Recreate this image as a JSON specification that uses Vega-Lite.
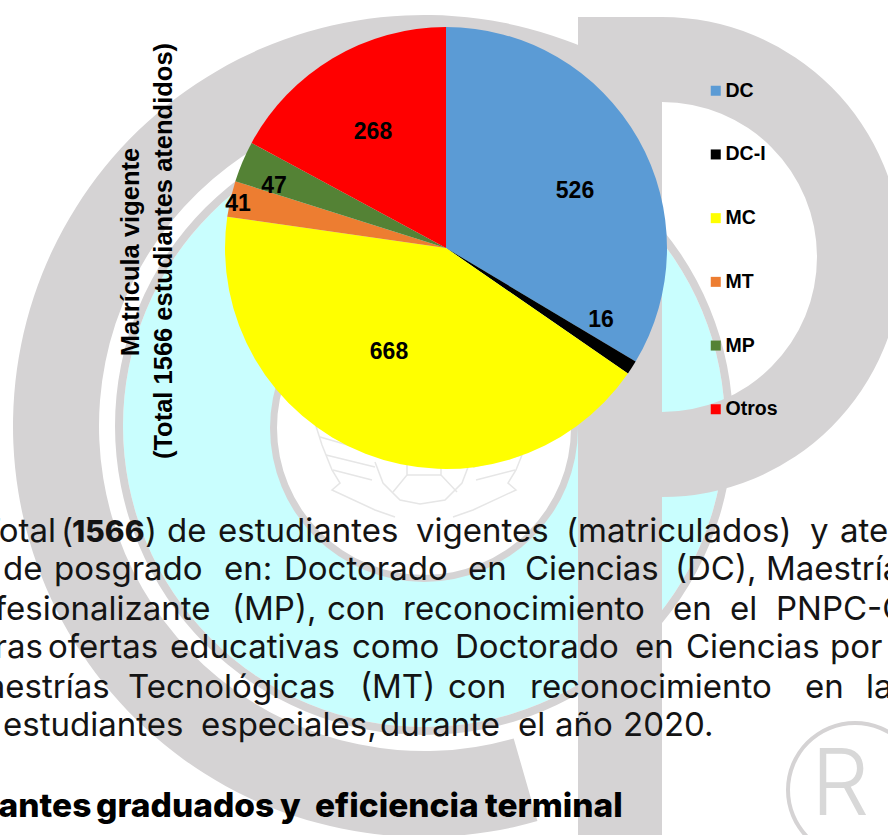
{
"$schema":"https://vega.github.io/schema/vega-lite/v6.json",
"width":888,"height":835,"padding":0,
"autosize":{"type":"none"},
"background":"white",
"config":{"view":{"stroke":null}},
"datasets":{
"cyan":[{"cx":424,"cy":426,"r":301,"r2":150,"t0":0,"t1":6.2832}],
"rings":[
{"name":"thin","cx":424,"cy":426,"r":309,"r2":301,"t0":0,"t1":6.2832},
{"name":"inner","cx":424,"cy":428,"r":154,"r2":147,"t0":0,"t1":6.2832},
{"name":"C","cx":424,"cy":426,"r":411,"r2":325,"t0":2.862,"t1":6.72},
{"name":"P","cx":662,"cy":257,"r":240,"r2":155,"t0":0,"t1":3.1416},
{"name":"reg","cx":855,"cy":790,"r":69,"r2":65,"t0":0,"t1":6.2832}
],
"stem":[{"x":578,"x2":662,"y":17,"y2":835}],
"emblem":[
{"g":"a","i":1,"x":315,"y":423},{"g":"a","i":2,"x":322,"y":445},{"g":"a","i":3,"x":332,"y":470},{"g":"a","i":4,"x":340,"y":483},{"g":"a","i":5,"x":332,"y":490},{"g":"a","i":6,"x":375,"y":510},{"g":"a","i":7,"x":395,"y":517},
{"g":"b","i":1,"x":320,"y":437},{"g":"b","i":2,"x":372,"y":452},
{"g":"c","i":1,"x":326,"y":455},{"g":"c","i":2,"x":375,"y":467},
{"g":"d","i":1,"x":333,"y":470},{"g":"d","i":2,"x":372,"y":480},
{"g":"e","i":1,"x":533,"y":423},{"g":"e","i":2,"x":526,"y":445},{"g":"e","i":3,"x":516,"y":470},{"g":"e","i":4,"x":508,"y":483},{"g":"e","i":5,"x":516,"y":490},{"g":"e","i":6,"x":473,"y":510},{"g":"e","i":7,"x":453,"y":517},
{"g":"f","i":1,"x":528,"y":437},{"g":"f","i":2,"x":476,"y":452},
{"g":"g","i":1,"x":522,"y":455},{"g":"g","i":2,"x":473,"y":467},
{"g":"h","i":1,"x":515,"y":470},{"g":"h","i":2,"x":476,"y":480},
{"g":"k","i":1,"x":375,"y":462},{"g":"k","i":2,"x":383,"y":483},{"g":"k","i":3,"x":400,"y":500},{"g":"k","i":4,"x":420,"y":504},{"g":"k","i":5,"x":445,"y":500},{"g":"k","i":6,"x":462,"y":483},{"g":"k","i":7,"x":470,"y":462},
{"g":"m","i":1,"x":407,"y":457},{"g":"m","i":2,"x":407,"y":475},{"g":"m","i":3,"x":393,"y":492},
{"g":"n","i":1,"x":441,"y":457},{"g":"n","i":2,"x":441,"y":475},{"g":"n","i":3,"x":457,"y":492},
{"g":"o","i":1,"x":407,"y":475},{"g":"o","i":2,"x":441,"y":475}
],
"pie":[
{"programa":"DC","n":526,"i":1},
{"programa":"DC-I","n":16,"i":2},
{"programa":"MC","n":668,"i":3},
{"programa":"MT","n":41,"i":4},
{"programa":"MP","n":47,"i":5},
{"programa":"Otros","n":268,"i":6}
],
"pieLabels":[
{"t":"526","x":575,"y":198},{"t":"16","x":601,"y":327},{"t":"668","x":389,"y":359},
{"t":"41","x":238,"y":211},{"t":"47","x":274,"y":193},{"t":"268","x":373,"y":139}
],
"axisTitle":[
{"t":"Matrícula vigente","x":139,"y":252},
{"t":"(Total 1566 estudiantes atendidos)","x":172,"y":251}
],
"body":[
{"w":"Total","x":-20,"y":542},{"w":"(","x":61,"y":542},{"w":")","x":145,"y":542},{"w":"de","x":167,"y":542},{"w":"estudiantes","x":218,"y":542},{"w":"vigentes","x":416,"y":542},{"w":"(matriculados)","x":566,"y":542},{"w":"y","x":810,"y":542},{"w":"atendidos","x":840,"y":542},
{"w":"de","x":3,"y":580},{"w":"posgrado","x":54,"y":580},{"w":"en:","x":224,"y":580},{"w":"Doctorado","x":284,"y":580},{"w":"en","x":468,"y":580},{"w":"Ciencias","x":525,"y":580},{"w":"(DC),","x":675,"y":580},{"w":"Maestría","x":766,"y":580},
{"w":"Profesionalizante","x":-58,"y":620},{"w":"(MP),","x":232,"y":620},{"w":"con","x":327,"y":620},{"w":"reconocimiento","x":403,"y":620},{"w":"en","x":673,"y":620},{"w":"el","x":730,"y":620},{"w":"PNPC-CONACYT","x":776,"y":620},
{"w":"otras","x":-36,"y":658},{"w":"ofertas","x":48,"y":658},{"w":"educativas","x":170,"y":658},{"w":"como","x":352,"y":658},{"w":"Doctorado","x":455,"y":658},{"w":"en","x":635,"y":658},{"w":"Ciencias","x":686,"y":658},{"w":"por","x":830,"y":658},
{"w":"Maestrías","x":-43,"y":698},{"w":"Tecnológicas","x":128,"y":698},{"w":"(MT)","x":360,"y":698},{"w":"con","x":448,"y":698},{"w":"reconocimiento","x":530,"y":698},{"w":"en","x":805,"y":698},{"w":"la","x":866,"y":698},
{"w":"estudiantes","x":3,"y":736},{"w":"especiales,","x":201,"y":736},{"w":"durante","x":380,"y":736},{"w":"el","x":518,"y":736},{"w":"año","x":555,"y":736},{"w":"2020.","x":623,"y":736}
],
"bold":[{"w":"1566","x":72,"y":542}],
"heading":[
{"w":"Estudiantes","x":-106,"y":817},{"w":"graduados","x":96,"y":817},{"w":"y","x":280,"y":817},{"w":"eficiencia","x":315,"y":817},{"w":"terminal","x":485,"y":817}
],
"regLetter":[{"t":"R","x":811,"y":815}]
},
"layer":[
{"data":{"name":"cyan"},"mark":{"type":"arc","fill":"#c9fefe"},
"encoding":{"x":{"field":"cx","type":"quantitative","scale":{"domain":[0,888],"nice":false,"zero":false},"axis":null},"y":{"field":"cy","type":"quantitative","scale":{"domain":[0,835],"reverse":true,"nice":false,"zero":false},"axis":null},
"radius":{"field":"r","type":"quantitative","scale":null},"radius2":{"field":"r2"},"theta":{"field":"t0","type":"quantitative","scale":null,"stack":null},"theta2":{"field":"t1"}}},
{"data":{"name":"rings"},"mark":{"type":"arc","fill":"#d5d3d4"},
"encoding":{"x":{"field":"cx","type":"quantitative","axis":null},"y":{"field":"cy","type":"quantitative","axis":null},
"radius":{"field":"r","type":"quantitative","scale":null},"radius2":{"field":"r2"},"theta":{"field":"t0","type":"quantitative","scale":null,"stack":null},"theta2":{"field":"t1"}}},
{"data":{"name":"stem"},"mark":{"type":"rect","fill":"#d5d3d4"},
"encoding":{"x":{"field":"x","type":"quantitative","axis":null},"x2":{"field":"x2"},"y":{"field":"y","type":"quantitative","axis":null},"y2":{"field":"y2"}}},
{"data":{"name":"emblem"},"mark":{"type":"line","stroke":"#e6e6e6","strokeWidth":1.5},
"encoding":{"x":{"field":"x","type":"quantitative","axis":null},"y":{"field":"y","type":"quantitative","axis":null},"detail":{"field":"g"},"order":{"field":"i","type":"quantitative"}}},
{"data":{"name":"regLetter"},"mark":{"type":"text","font":"Inter","fontWeight":300,"fontSize":92,"align":"left","baseline":"alphabetic","fill":"#d8d8d8"},
"encoding":{"x":{"field":"x","type":"quantitative","axis":null},"y":{"field":"y","type":"quantitative","axis":null},"text":{"field":"t"}}},
{"data":{"name":"pie"},"mark":{"type":"arc","radius":221},
"encoding":{"x":{"datum":446,"type":"quantitative","axis":null},"y":{"datum":248,"type":"quantitative","axis":null},
"theta":{"field":"n","type":"quantitative","stack":true},"order":{"field":"i","type":"quantitative"},
"color":{"field":"programa","type":"nominal","sort":["DC","DC-I","MC","MT","MP","Otros"],
"scale":{"domain":["DC","DC-I","MC","MT","MP","Otros"],"range":["#5b9bd5","#000000","#ffff00","#ed7d31","#548235","#ff0000"]},
"legend":{"title":null,"orient":"none","legendX":706,"legendY":81,"symbolType":"square","symbolSize":100,"symbolStrokeWidth":0,"labelFont":"Liberation Sans","labelFontWeight":"bold","labelFontSize":19.5,"labelColor":"#000000","rowPadding":42.7,"labelOffset":0,"padding":0}}}},
{"data":{"name":"pieLabels"},"mark":{"type":"text","font":"Liberation Sans","fontWeight":"bold","fontSize":23,"align":"center","baseline":"alphabetic","fill":"#000000"},
"encoding":{"x":{"field":"x","type":"quantitative","axis":null},"y":{"field":"y","type":"quantitative","axis":null},"text":{"field":"t"}}},
{"data":{"name":"axisTitle"},"mark":{"type":"text","font":"Liberation Sans","fontWeight":"bold","fontSize":25.5,"align":"center","baseline":"alphabetic","angle":270,"fill":"#000000"},
"encoding":{"x":{"field":"x","type":"quantitative","axis":null},"y":{"field":"y","type":"quantitative","axis":null},"text":{"field":"t"}}},
{"data":{"name":"body"},"mark":{"type":"text","font":"Inter","fontSize":33,"fontWeight":400,"align":"left","baseline":"alphabetic","fill":"#141414","clip":true},
"encoding":{"x":{"field":"x","type":"quantitative","axis":null},"y":{"field":"y","type":"quantitative","axis":null},"text":{"field":"w"}}},
{"data":{"name":"bold"},"mark":{"type":"text","font":"Inter","fontSize":30,"fontWeight":800,"align":"left","baseline":"alphabetic","fill":"#141414","clip":true},
"encoding":{"x":{"field":"x","type":"quantitative","axis":null},"y":{"field":"y","type":"quantitative","axis":null},"text":{"field":"w"}}},
{"data":{"name":"heading"},"mark":{"type":"text","font":"Inter","fontSize":33.5,"fontWeight":800,"align":"left","baseline":"alphabetic","fill":"#000000","clip":true},
"encoding":{"x":{"field":"x","type":"quantitative","axis":null},"y":{"field":"y","type":"quantitative","axis":null},"text":{"field":"w"}}}
]
}
